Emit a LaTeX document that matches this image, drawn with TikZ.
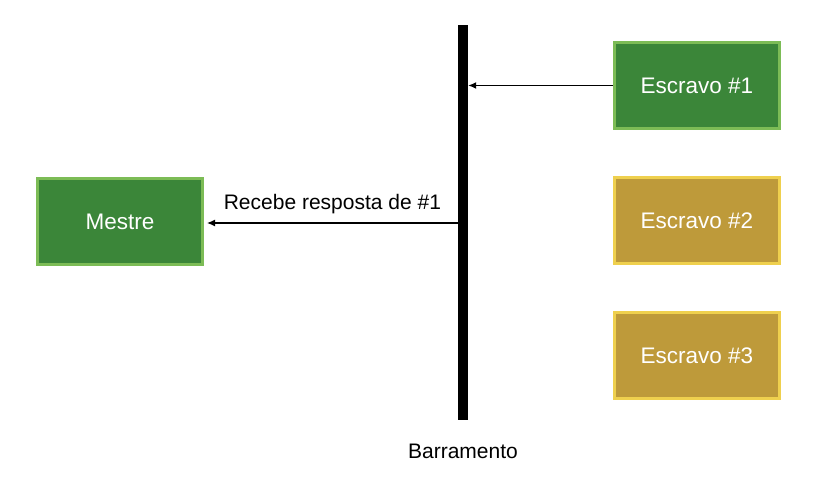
\documentclass[tikz,border=0pt]{standalone}
\usepackage{fontspec}
\setmainfont{Liberation Sans}
\usetikzlibrary{arrows.meta,positioning,shadows}
\definecolor{mastergreen}{HTML}{3B8639}
\definecolor{masteredge}{HTML}{7CBC56}
\definecolor{slavegold}{HTML}{BE9A3A}
\definecolor{slaveedge}{HTML}{EFD04E}

\begin{document}
\begin{tikzpicture}[x=1pt, y=1pt,
  unit/.style={rectangle, line width=3pt, minimum width=165pt, minimum height=86pt,
               text=white, font=\fontsize{22.5}{26}\selectfont,
               drop shadow={opacity=0.2, shadow xshift=0.5pt, shadow yshift=-1.5pt}},
  master/.style={unit, draw=masteredge, fill=mastergreen},
  slave/.style={unit, draw=slaveedge, fill=slavegold},
  busbar/.style={rectangle, fill=black, inner sep=0pt, minimum width=10pt, minimum height=395pt},
  lbl/.style={font=\fontsize{21}{25}\selectfont, text=black},
  arr/.style={-{Latex[length=8pt,width=7pt]}, line width=1.3pt}]

\useasboundingbox (0,0) rectangle (829,484);

\node[busbar] (bus) at (463,261.5) {};
\node[master] (mestre) at (120,262.5) {Mestre};
\node[slave, draw=masteredge, fill=mastergreen] (e1) at (697,398.5) {Escravo \#1};
\node[slave, below=46pt of e1] (e2) {Escravo \#2};
\node[slave, below=46pt of e2] (e3) {Escravo \#3};

\draw[arr] (e1.west) -- (e1.west -| bus.east);
\draw[arr] (bus.west |- 0,261) -- node[lbl, above=5pt]{Recebe resposta de \#1} ([xshift=3pt]mestre.east |- 0,261);

\node[lbl, below=20pt of bus] (barr) {Barramento};
\end{tikzpicture}
\end{document}
